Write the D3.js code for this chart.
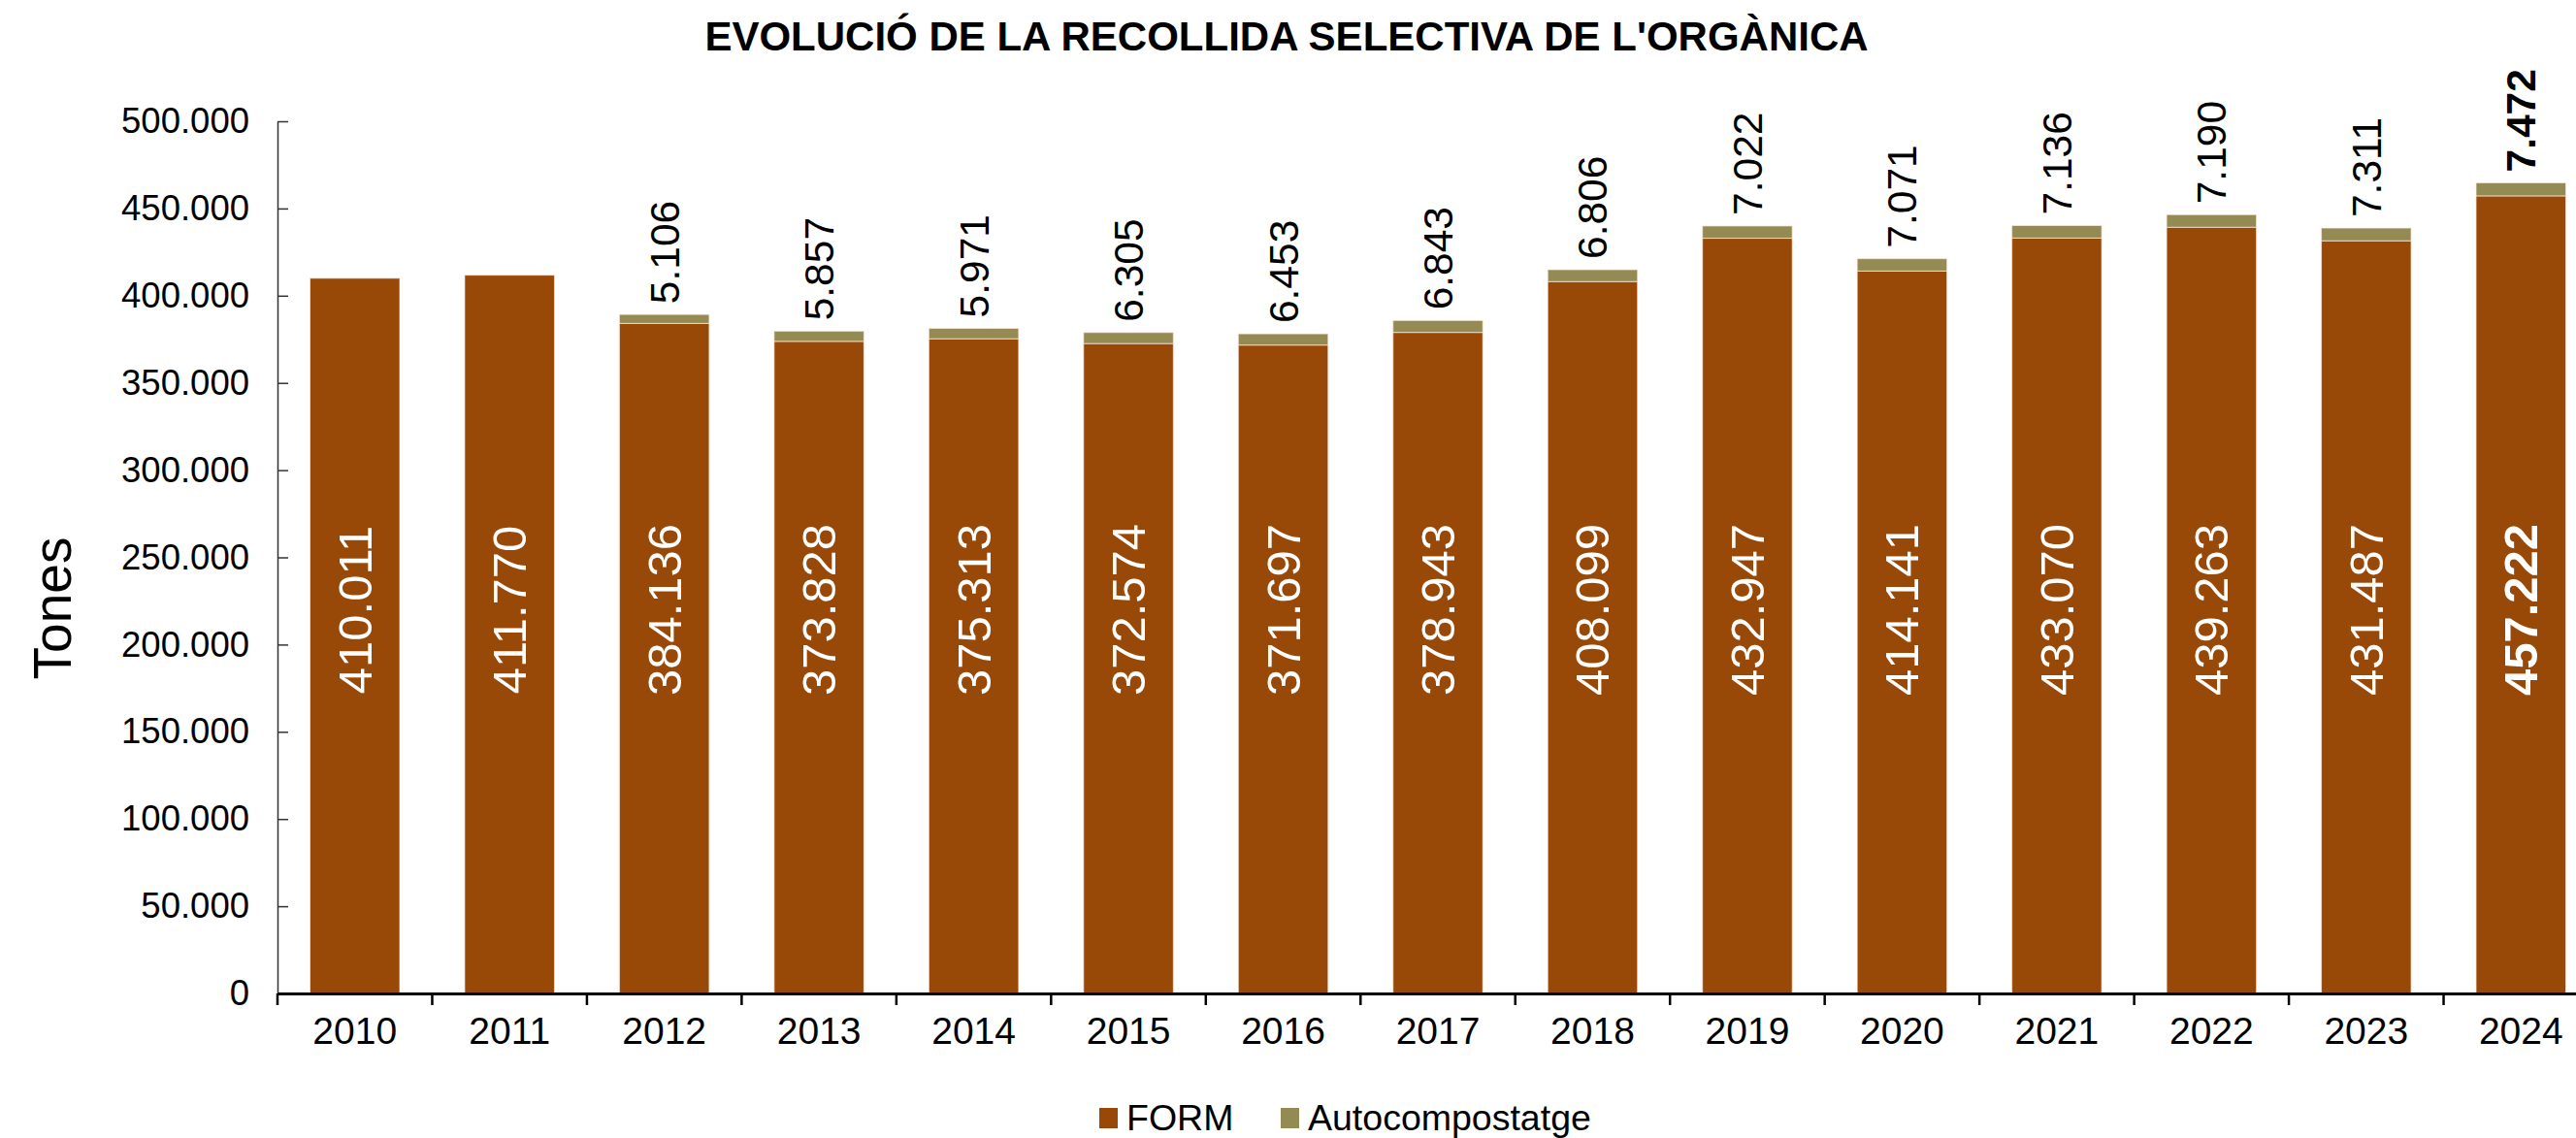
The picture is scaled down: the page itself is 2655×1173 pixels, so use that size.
<!DOCTYPE html>
<html>
<head>
<meta charset="utf-8">
<script src="https://cdn.jsdelivr.net/npm/d3@7"></script>
<style>
  body { margin: 0; background: #fff; }
  svg { display: block; font-family: Arial, "Liberation Sans", sans-serif; }
</style>
</head>
<body>
<svg id="chart" width="2655" height="1173"></svg>
<script>
// data
var years = ['2010', '2011', '2012', '2013', '2014', '2015', '2016', '2017', '2018', '2019', '2020', '2021', '2022', '2023', '2024']
var form = [410011, 411770, 384136, 373828, 375313, 372574, 371697, 378943, 408099, 432947, 414141, 433070, 439263, 431487, 457222]
var auto = [null, null, 5106, 5857, 5971, 6305, 6453, 6843, 6806, 7022, 7071, 7136, 7190, 7311, 7472]
var yTicks = [0, 50000, 100000, 150000, 200000, 250000, 300000, 350000, 400000, 450000, 500000]
var seriesNames = ['FORM', 'Autocompostatge']

var colorForm = '#984807'
var colorAuto = '#948a54'
var lastYear = '2024'

var locale = d3.formatLocale({ decimal: ',', thousands: '.', grouping: [3], currency: ['', ' €'] })
var fmt = locale.format(',')

var svg = d3.select('#chart')

var x = d3.scaleBand().domain(years).range([286, 2678]).paddingInner(0.42).paddingOuter(0.21)
var y = d3.scaleLinear().domain([0, 500000]).range([1024, 125])

//
// bars
//
var rows = years.map(function (yr, i) {
  return { year: yr, form: form[i], auto: auto[i] || 0 }
})
var stack = d3.stack().keys(['form', 'auto'])(rows)
var colors = [colorForm, colorAuto]

svg.append('g')
  .selectAll('g')
  .data(stack)
  .join('g')
  .attr('fill', function (d, i) { return colors[i] })
  .selectAll('rect')
  .data(function (d) { return d })
  .join('rect')
  .attr('x', function (d) { return x(d.data.year) })
  .attr('width', x.bandwidth())
  .attr('y', function (d) { return y(d[1]) })
  .attr('height', function (d) { return y(d[0]) - y(d[1]) })
  .attr('stroke', 'rgba(255,235,220,0.7)')
  .attr('stroke-width', 1)

//
// axes
//
var yAxis = svg.append('g')
  .attr('transform', 'translate(286,0)')
  .call(d3.axisLeft(y).tickValues(yTicks).tickFormat(fmt).tickSizeInner(11).tickSizeOuter(0).tickPadding(18))
yAxis.select('.domain').attr('stroke', '#333').attr('stroke-width', 1.5)
yAxis.selectAll('.tick line').attr('x2', 11).attr('stroke', '#333').attr('stroke-width', 1.5)
yAxis.selectAll('.tick text').attr('font-size', 36.5).attr('fill', '#000')
yAxis.attr('font-family', null)

var xAxis = svg.append('g')
  .attr('transform', 'translate(0,1024)')
  .call(d3.axisBottom(x).tickSize(0).tickPadding(24))
xAxis.select('.domain').attr('stroke', '#000').attr('stroke-width', 3)
xAxis.selectAll('.tick text').attr('font-size', 39).attr('fill', '#000')
xAxis.attr('font-family', null)

// ticks at category boundaries
var bounds = years.map(function (yr) { return x(yr) - x.step() * x.paddingInner() / 2 })
bounds.push(x.range()[1])
xAxis.append('g')
  .selectAll('line')
  .data(bounds)
  .join('line')
  .attr('x1', function (d) { return d })
  .attr('x2', function (d) { return d })
  .attr('y1', 0)
  .attr('y2', 12)
  .attr('stroke', '#000')
  .attr('stroke-width', 2.5)

//
// labels
//
var labelAt = 220000

svg.append('g')
  .selectAll('text')
  .data(rows)
  .join('text')
  .attr('transform', function (d) {
    return 'translate(' + (x(d.year) + x.bandwidth() / 2 + 17) + ',' + y(labelAt) + ') rotate(-90)'
  })
  .attr('text-anchor', 'middle')
  .attr('font-size', 49)
  .attr('font-weight', function (d) { return d.year === lastYear ? 'bold' : null })
  .attr('fill', '#fff')
  .text(function (d) { return fmt(d.form) })

svg.append('g')
  .selectAll('text')
  .data(rows.filter(function (d) { return d.auto > 0 }))
  .join('text')
  .attr('transform', function (d) {
    return 'translate(' + (x(d.year) + x.bandwidth() / 2 + 15) + ',' + (y(d.form + d.auto) - 11) + ') rotate(-90)'
  })
  .attr('text-anchor', 'start')
  .attr('font-size', 42.5)
  .attr('font-weight', function (d) { return d.year === lastYear ? 'bold' : null })
  .attr('fill', '#000')
  .text(function (d) { return fmt(d.auto) })

// title
svg.append('text')
  .attr('x', 1326)
  .attr('y', 52)
  .attr('text-anchor', 'middle')
  .attr('font-size', 42)
  .attr('font-weight', 'bold')
  .text("EVOLUCIÓ DE LA RECOLLIDA SELECTIVA DE L'ORGÀNICA")

// y title
svg.append('text')
  .attr('transform', 'translate(73,627) rotate(-90)')
  .attr('text-anchor', 'middle')
  .attr('font-size', 55)
  .text('Tones')

// legend
var legendX = [1133, 1320]
var legend = svg.append('g')
  .selectAll('g')
  .data(seriesNames)
  .join('g')
  .attr('transform', function (d, i) { return 'translate(' + legendX[i] + ',1142)' })
legend.append('rect')
  .attr('width', 19)
  .attr('height', 21)
  .attr('fill', function (d, i) { return colors[i] })
legend.append('text')
  .attr('x', 28)
  .attr('y', 23)
  .attr('font-size', 37.5)
  .text(function (d) { return d })
</script>
</body>
</html>
